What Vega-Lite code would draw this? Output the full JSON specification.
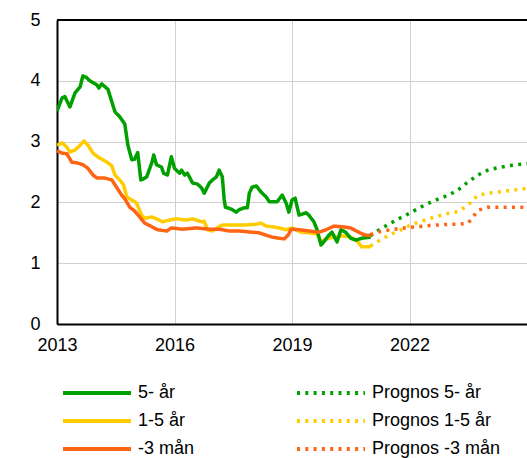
{
  "$schema": "https://vega.github.io/schema/vega-lite/v6.json",
  "width": 470,
  "height": 304,
  "autosize": "none",
  "padding": {"left": 57, "top": 20, "right": 0, "bottom": 134},
  "config": {"view": {"stroke": null}, "font": "Liberation Sans"},
  "datasets": {
    "hist": [
      {"s":"1-5 år","t":2013.00,"v":2.94},{"s":"1-5 år","t":2013.13,"v":2.98},{"s":"1-5 år","t":2013.25,"v":2.91},{"s":"1-5 år","t":2013.33,"v":2.83},{"s":"1-5 år","t":2013.46,"v":2.86},{"s":"1-5 år","t":2013.59,"v":2.94},{"s":"1-5 år","t":2013.69,"v":3.01},{"s":"1-5 år","t":2013.79,"v":2.94},{"s":"1-5 år","t":2013.92,"v":2.81},{"s":"1-5 år","t":2014.04,"v":2.75},{"s":"1-5 år","t":2014.17,"v":2.70},{"s":"1-5 år","t":2014.30,"v":2.65},{"s":"1-5 år","t":2014.40,"v":2.60},{"s":"1-5 år","t":2014.48,"v":2.45},{"s":"1-5 år","t":2014.60,"v":2.37},{"s":"1-5 år","t":2014.70,"v":2.29},{"s":"1-5 år","t":2014.78,"v":2.09},{"s":"1-5 år","t":2014.91,"v":2.04},{"s":"1-5 år","t":2015.03,"v":1.99},{"s":"1-5 år","t":2015.16,"v":1.79},{"s":"1-5 år","t":2015.24,"v":1.74},{"s":"1-5 år","t":2015.42,"v":1.76},{"s":"1-5 år","t":2015.54,"v":1.73},{"s":"1-5 år","t":2015.70,"v":1.68},{"s":"1-5 år","t":2015.87,"v":1.71},{"s":"1-5 år","t":2016.05,"v":1.73},{"s":"1-5 år","t":2016.30,"v":1.71},{"s":"1-5 år","t":2016.46,"v":1.73},{"s":"1-5 år","t":2016.69,"v":1.68},{"s":"1-5 år","t":2016.76,"v":1.69},{"s":"1-5 år","t":2016.84,"v":1.55},{"s":"1-5 år","t":2016.97,"v":1.53},{"s":"1-5 år","t":2017.09,"v":1.58},{"s":"1-5 år","t":2017.22,"v":1.63},{"s":"1-5 år","t":2017.48,"v":1.63},{"s":"1-5 år","t":2017.83,"v":1.63},{"s":"1-5 år","t":2018.09,"v":1.64},{"s":"1-5 år","t":2018.21,"v":1.66},{"s":"1-5 år","t":2018.34,"v":1.61},{"s":"1-5 år","t":2018.49,"v":1.60},{"s":"1-5 år","t":2018.67,"v":1.58},{"s":"1-5 år","t":2018.85,"v":1.55},{"s":"1-5 år","t":2019.00,"v":1.58},{"s":"1-5 år","t":2019.23,"v":1.51},{"s":"1-5 år","t":2019.43,"v":1.50},{"s":"1-5 år","t":2019.64,"v":1.48},{"s":"1-5 år","t":2019.74,"v":1.35},{"s":"1-5 år","t":2019.87,"v":1.40},{"s":"1-5 år","t":2020.07,"v":1.43},{"s":"1-5 år","t":2020.27,"v":1.45},{"s":"1-5 år","t":2020.50,"v":1.43},{"s":"1-5 år","t":2020.65,"v":1.37},{"s":"1-5 år","t":2020.78,"v":1.27},{"s":"1-5 år","t":2021.01,"v":1.27},
      {"s":"5- år","t":2013.00,"v":3.50},{"s":"5- år","t":2013.13,"v":3.72},{"s":"5- år","t":2013.20,"v":3.74},{"s":"5- år","t":2013.33,"v":3.57},{"s":"5- år","t":2013.46,"v":3.80},{"s":"5- år","t":2013.59,"v":3.90},{"s":"5- år","t":2013.66,"v":4.08},{"s":"5- år","t":2013.74,"v":4.06},{"s":"5- år","t":2013.84,"v":4.00},{"s":"5- år","t":2014.02,"v":3.93},{"s":"5- år","t":2014.07,"v":3.88},{"s":"5- år","t":2014.14,"v":3.95},{"s":"5- år","t":2014.30,"v":3.86},{"s":"5- år","t":2014.48,"v":3.49},{"s":"5- år","t":2014.60,"v":3.41},{"s":"5- år","t":2014.73,"v":3.29},{"s":"5- år","t":2014.81,"v":2.94},{"s":"5- år","t":2014.91,"v":2.70},{"s":"5- år","t":2014.98,"v":2.71},{"s":"5- år","t":2015.06,"v":2.82},{"s":"5- år","t":2015.14,"v":2.37},{"s":"5- år","t":2015.19,"v":2.38},{"s":"5- år","t":2015.29,"v":2.42},{"s":"5- år","t":2015.42,"v":2.65},{"s":"5- år","t":2015.47,"v":2.78},{"s":"5- år","t":2015.54,"v":2.62},{"s":"5- år","t":2015.67,"v":2.58},{"s":"5- år","t":2015.72,"v":2.48},{"s":"5- år","t":2015.82,"v":2.45},{"s":"5- år","t":2015.92,"v":2.75},{"s":"5- år","t":2016.00,"v":2.56},{"s":"5- år","t":2016.13,"v":2.48},{"s":"5- år","t":2016.18,"v":2.53},{"s":"5- år","t":2016.26,"v":2.45},{"s":"5- år","t":2016.33,"v":2.48},{"s":"5- år","t":2016.46,"v":2.32},{"s":"5- år","t":2016.59,"v":2.30},{"s":"5- år","t":2016.69,"v":2.24},{"s":"5- år","t":2016.76,"v":2.15},{"s":"5- år","t":2016.89,"v":2.32},{"s":"5- år","t":2016.97,"v":2.37},{"s":"5- år","t":2017.07,"v":2.42},{"s":"5- år","t":2017.14,"v":2.53},{"s":"5- år","t":2017.22,"v":2.42},{"s":"5- år","t":2017.27,"v":2.04},{"s":"5- år","t":2017.30,"v":1.92},{"s":"5- år","t":2017.45,"v":1.89},{"s":"5- år","t":2017.58,"v":1.84},{"s":"5- år","t":2017.65,"v":1.88},{"s":"5- år","t":2017.78,"v":1.91},{"s":"5- år","t":2017.86,"v":1.91},{"s":"5- år","t":2017.91,"v":2.15},{"s":"5- år","t":2017.98,"v":2.25},{"s":"5- år","t":2018.09,"v":2.27},{"s":"5- år","t":2018.21,"v":2.17},{"s":"5- år","t":2018.34,"v":2.09},{"s":"5- år","t":2018.42,"v":2.01},{"s":"5- år","t":2018.62,"v":2.01},{"s":"5- år","t":2018.75,"v":2.12},{"s":"5- år","t":2018.85,"v":1.99},{"s":"5- år","t":2018.92,"v":1.84},{"s":"5- år","t":2019.00,"v":2.04},{"s":"5- år","t":2019.08,"v":2.07},{"s":"5- år","t":2019.18,"v":1.79},{"s":"5- år","t":2019.36,"v":1.83},{"s":"5- år","t":2019.43,"v":1.79},{"s":"5- år","t":2019.56,"v":1.68},{"s":"5- år","t":2019.64,"v":1.55},{"s":"5- år","t":2019.74,"v":1.30},{"s":"5- år","t":2019.81,"v":1.35},{"s":"5- år","t":2019.94,"v":1.46},{"s":"5- år","t":2020.02,"v":1.51},{"s":"5- år","t":2020.15,"v":1.35},{"s":"5- år","t":2020.25,"v":1.55},{"s":"5- år","t":2020.37,"v":1.51},{"s":"5- år","t":2020.50,"v":1.41},{"s":"5- år","t":2020.63,"v":1.38},{"s":"5- år","t":2020.78,"v":1.41},{"s":"5- år","t":2021.01,"v":1.43},
      {"s":"-3 mån","t":2013.00,"v":2.85},{"s":"-3 mån","t":2013.13,"v":2.81},{"s":"-3 mån","t":2013.25,"v":2.80},{"s":"-3 mån","t":2013.38,"v":2.66},{"s":"-3 mån","t":2013.51,"v":2.65},{"s":"-3 mån","t":2013.66,"v":2.62},{"s":"-3 mån","t":2013.79,"v":2.56},{"s":"-3 mån","t":2013.92,"v":2.45},{"s":"-3 mån","t":2014.02,"v":2.40},{"s":"-3 mån","t":2014.22,"v":2.40},{"s":"-3 mån","t":2014.40,"v":2.37},{"s":"-3 mån","t":2014.53,"v":2.24},{"s":"-3 mån","t":2014.65,"v":2.12},{"s":"-3 mån","t":2014.73,"v":2.06},{"s":"-3 mån","t":2014.86,"v":1.92},{"s":"-3 mån","t":2014.98,"v":1.86},{"s":"-3 mån","t":2015.11,"v":1.76},{"s":"-3 mån","t":2015.24,"v":1.66},{"s":"-3 mån","t":2015.42,"v":1.60},{"s":"-3 mån","t":2015.57,"v":1.55},{"s":"-3 mån","t":2015.80,"v":1.53},{"s":"-3 mån","t":2015.92,"v":1.58},{"s":"-3 mån","t":2016.20,"v":1.56},{"s":"-3 mån","t":2016.56,"v":1.58},{"s":"-3 mån","t":2016.89,"v":1.56},{"s":"-3 mån","t":2017.14,"v":1.56},{"s":"-3 mån","t":2017.40,"v":1.53},{"s":"-3 mån","t":2017.65,"v":1.53},{"s":"-3 mån","t":2017.98,"v":1.51},{"s":"-3 mån","t":2018.16,"v":1.50},{"s":"-3 mån","t":2018.34,"v":1.46},{"s":"-3 mån","t":2018.49,"v":1.43},{"s":"-3 mån","t":2018.67,"v":1.41},{"s":"-3 mån","t":2018.80,"v":1.40},{"s":"-3 mån","t":2018.90,"v":1.46},{"s":"-3 mån","t":2018.98,"v":1.56},{"s":"-3 mån","t":2019.18,"v":1.55},{"s":"-3 mån","t":2019.43,"v":1.53},{"s":"-3 mån","t":2019.69,"v":1.51},{"s":"-3 mån","t":2019.87,"v":1.55},{"s":"-3 mån","t":2020.07,"v":1.61},{"s":"-3 mån","t":2020.27,"v":1.60},{"s":"-3 mån","t":2020.50,"v":1.58},{"s":"-3 mån","t":2020.70,"v":1.51},{"s":"-3 mån","t":2020.88,"v":1.46},{"s":"-3 mån","t":2021.01,"v":1.46},
      {"s":"Prognos 5- år","t":2021.0,"v":1.45},{"s":"Prognos 5- år","t":2021.25,"v":1.56},{"s":"Prognos 5- år","t":2021.5,"v":1.65},{"s":"Prognos 5- år","t":2021.75,"v":1.74},{"s":"Prognos 5- år","t":2022.0,"v":1.82},{"s":"Prognos 5- år","t":2022.25,"v":1.91},{"s":"Prognos 5- år","t":2022.5,"v":1.99},{"s":"Prognos 5- år","t":2022.75,"v":2.06},{"s":"Prognos 5- år","t":2023.0,"v":2.12},{"s":"Prognos 5- år","t":2023.25,"v":2.21},{"s":"Prognos 5- år","t":2023.5,"v":2.34},{"s":"Prognos 5- år","t":2023.75,"v":2.45},{"s":"Prognos 5- år","t":2024.0,"v":2.53},{"s":"Prognos 5- år","t":2024.25,"v":2.57},{"s":"Prognos 5- år","t":2024.5,"v":2.60},{"s":"Prognos 5- år","t":2024.75,"v":2.62},{"s":"Prognos 5- år","t":2025.0,"v":2.64},
      {"s":"Prognos 1-5 år","t":2021.0,"v":1.28},{"s":"Prognos 1-5 år","t":2021.25,"v":1.38},{"s":"Prognos 1-5 år","t":2021.5,"v":1.47},{"s":"Prognos 1-5 år","t":2021.75,"v":1.54},{"s":"Prognos 1-5 år","t":2022.0,"v":1.62},{"s":"Prognos 1-5 år","t":2022.25,"v":1.68},{"s":"Prognos 1-5 år","t":2022.5,"v":1.73},{"s":"Prognos 1-5 år","t":2022.75,"v":1.78},{"s":"Prognos 1-5 år","t":2023.0,"v":1.82},{"s":"Prognos 1-5 år","t":2023.25,"v":1.85},{"s":"Prognos 1-5 år","t":2023.5,"v":1.96},{"s":"Prognos 1-5 år","t":2023.75,"v":2.12},{"s":"Prognos 1-5 år","t":2024.0,"v":2.15},{"s":"Prognos 1-5 år","t":2024.25,"v":2.17},{"s":"Prognos 1-5 år","t":2024.5,"v":2.19},{"s":"Prognos 1-5 år","t":2024.75,"v":2.21},{"s":"Prognos 1-5 år","t":2025.0,"v":2.23},
      {"s":"Prognos -3 mån","t":2021.0,"v":1.47},{"s":"Prognos -3 mån","t":2021.25,"v":1.52},{"s":"Prognos -3 mån","t":2021.5,"v":1.55},{"s":"Prognos -3 mån","t":2021.75,"v":1.57},{"s":"Prognos -3 mån","t":2022.0,"v":1.59},{"s":"Prognos -3 mån","t":2022.25,"v":1.60},{"s":"Prognos -3 mån","t":2022.5,"v":1.62},{"s":"Prognos -3 mån","t":2022.75,"v":1.63},{"s":"Prognos -3 mån","t":2023.0,"v":1.64},{"s":"Prognos -3 mån","t":2023.25,"v":1.64},{"s":"Prognos -3 mån","t":2023.5,"v":1.66},{"s":"Prognos -3 mån","t":2023.75,"v":1.87},{"s":"Prognos -3 mån","t":2024.0,"v":1.92},{"s":"Prognos -3 mån","t":2024.25,"v":1.92},{"s":"Prognos -3 mån","t":2024.5,"v":1.92},{"s":"Prognos -3 mån","t":2024.75,"v":1.92},{"s":"Prognos -3 mån","t":2025.0,"v":1.92}
    ]
  },
  "data": {"name": "hist"},
  "layer": [
    {
      "mark": {"type": "rule", "color": "black", "strokeWidth": 2},
      "encoding": {"y": {"datum": 5, "type": "quantitative"}}
    },
    {
      "mark": {"type": "line", "strokeWidth": 3.5, "strokeJoin": "round", "clip": true},
      "encoding": {
        "x": {
          "field": "t", "type": "quantitative",
          "scale": {"domain": [2013, 2025], "nice": false, "zero": false},
          "axis": {"values": [2013, 2016, 2019, 2022], "format": "d", "title": null, "grid": true, "gridColor": "#d0d0d0", "gridWidth": 1, "domainColor": "black", "domainWidth": 2, "ticks": false, "labelFontSize": 18, "labelColor": "black", "labelPadding": 12, "labelFlush": false}
        },
        "y": {
          "field": "v", "type": "quantitative",
          "scale": {"domain": [0, 5], "nice": false},
          "axis": {"values": [0, 1, 2, 3, 4, 5], "format": "d", "title": null, "grid": true, "gridColor": "#d0d0d0", "gridWidth": 1, "domainColor": "black", "domainWidth": 2, "ticks": false, "labelFontSize": 18, "labelColor": "black", "labelPadding": 17}
        },
        "color": {
          "field": "s", "type": "nominal",
          "scale": {
            "domain": ["5- år", "1-5 år", "-3 mån", "Prognos 5- år", "Prognos 1-5 år", "Prognos -3 mån"],
            "range": ["#00A000", "#FFCC00", "#FF6414", "#00A000", "#FFCC00", "#FF6414"]
          },
          "legend": {"orient": "none", "legendX": 4, "legendY": 364, "columns": 2, "columnPadding": 100, "rowPadding": 10, "clipHeight": 18, "symbolSize": 4624, "symbolStrokeWidth": 4, "symbolType": "stroke", "labelFontSize": 18, "labelColor": "black", "labelOffset": 5, "title": null, "padding": 0, "labelLimit": 300}
        },
        "strokeDash": {
          "field": "s", "type": "nominal",
          "scale": {
            "domain": ["5- år", "1-5 år", "-3 mån", "Prognos 5- år", "Prognos 1-5 år", "Prognos -3 mån"],
            "range": [[1, 0], [1, 0], [1, 0], [3, 5.3], [3, 5.3], [3, 5.3]]
          },
          "legend": {"orient": "none", "legendX": 4, "legendY": 364, "columns": 2, "columnPadding": 100, "rowPadding": 10, "clipHeight": 18, "symbolSize": 4624, "symbolStrokeWidth": 4, "symbolType": "stroke", "labelFontSize": 18, "labelColor": "black", "labelOffset": 5, "title": null, "padding": 0, "labelLimit": 300}
        }
      }
    }
  ]
}
